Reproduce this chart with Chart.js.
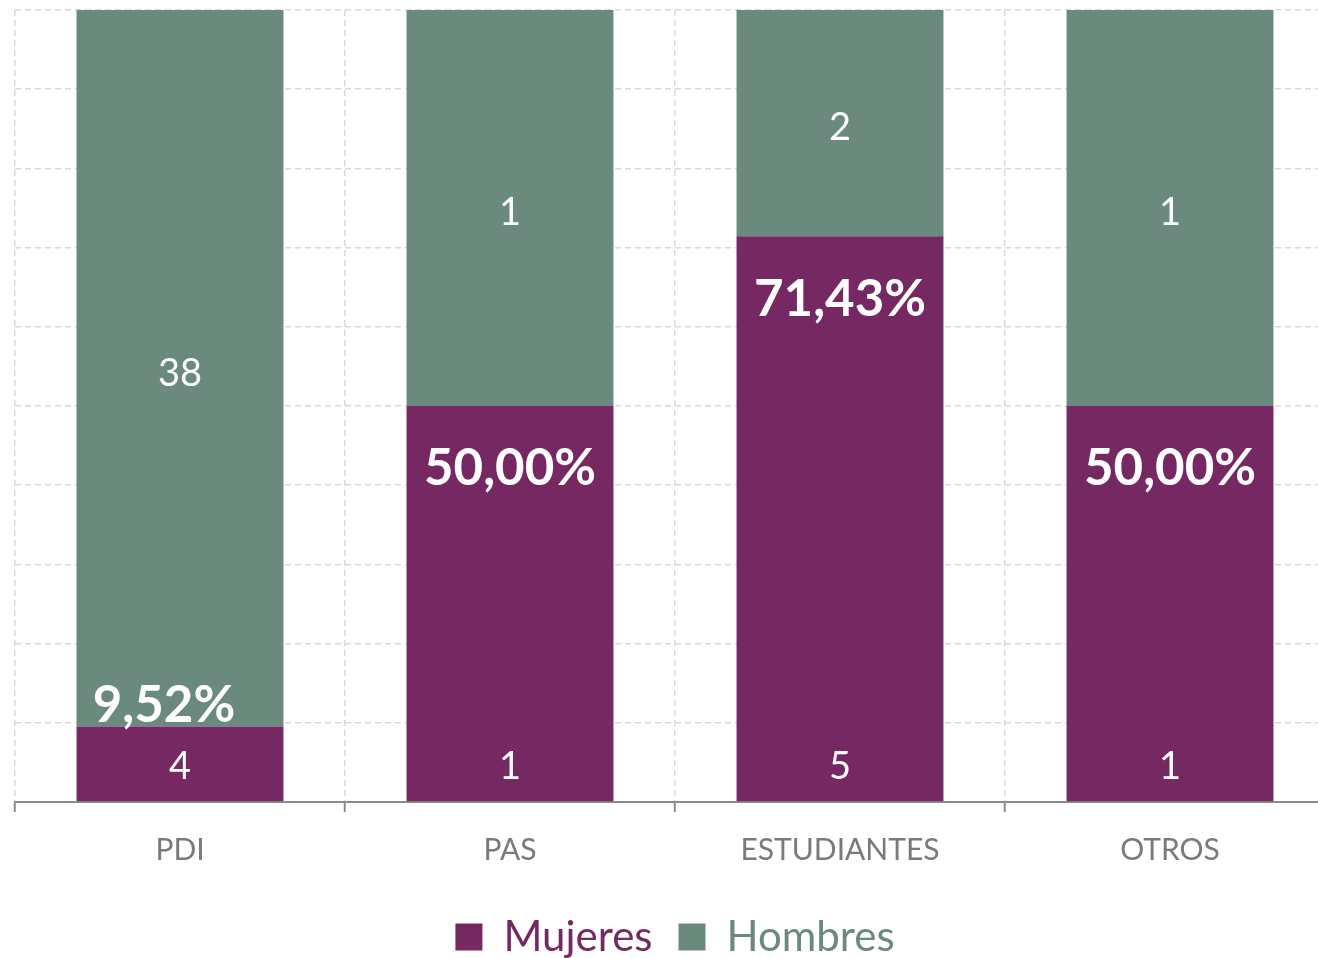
<!DOCTYPE html>
<html>
<head>
<meta charset="utf-8">
<script src="https://cdn.jsdelivr.net/npm/chart.js@4/dist/chart.umd.min.js"></script>
<style>
  html, body { margin: 0; padding: 0; background: #fff; overflow: hidden; }
  #wrap { width: 1340px; height: 958px; overflow: hidden; }
</style>
</head>
<body>
<div id="wrap"><canvas id="chart" width="1340" height="968"></canvas></div>
<script>
var categories = ['PDI', 'PAS', 'ESTUDIANTES', 'OTROS'];
var mujeres = [4, 1, 5, 1];
var hombres = [38, 1, 2, 1];
var pctLabels = ['9,52%', '50,00%', '71,43%', '50,00%'];

var purple = '#762862';
var green = '#6a8a7e';
var font = 'Lato, "Open Sans", sans-serif';

// 100% stacked: share of each group in its category
function share(part, i) {
    return part[i] / (mujeres[i] + hombres[i]) * 100;
}
var mujeresPct = categories.map(function (c, i) { return share(mujeres, i); });
var hombresPct = categories.map(function (c, i) { return share(hombres, i); });

var barLabels = {
    id: 'barLabels',
    afterDatasetsDraw: function (chart) {
        var ctx = chart.ctx;
        ctx.save();
        ctx.fillStyle = '#ffffff';
        ctx.textAlign = 'center';
        ctx.textBaseline = 'middle';
        var mMeta = chart.getDatasetMeta(0);
        var hMeta = chart.getDatasetMeta(1);
        mMeta.data.forEach(function (bar, i) {
            ctx.font = '38px ' + font;
            ctx.fillText(String(mujeres[i]), bar.x, bar.base - 35);
            ctx.font = 'bold 51px ' + font;
            var h = bar.base - bar.y;
            // short bar: the percentage sits just above it, a bit to the left
            if (h > 150) {
                ctx.fillText(pctLabels[i], bar.x, bar.y + 63);
            } else {
                ctx.fillText(pctLabels[i], bar.x - 16, bar.y - 21);
            }
        });
        hMeta.data.forEach(function (bar, i) {
            ctx.font = '38px ' + font;
            ctx.fillText(String(hombres[i]), bar.x, (bar.y + bar.base) / 2 + 5);
        });
        ctx.restore();
    }
};

var ctx = document.getElementById('chart').getContext('2d');
var chart = new Chart(ctx, {
    type: 'bar',
    data: {
        labels: categories,
        datasets: [{
            label: 'Mujeres',
            data: mujeresPct,
            backgroundColor: purple,
            categoryPercentage: 1,
            barPercentage: 0.627
        }, {
            label: 'Hombres',
            data: hombresPct,
            backgroundColor: green,
            categoryPercentage: 1,
            barPercentage: 0.627
        }]
    },
    options: {
        responsive: false,
        animation: false,
        layout: { padding: { left: 15, right: 5, top: 10, bottom: 0 } },
        plugins: {
            tooltip: { enabled: false },
            legend: {
                position: 'bottom',
                labels: {
                    boxWidth: 27,
                    boxHeight: 27,
                    padding: 26,
                    font: { family: font, size: 42 },
                    generateLabels: function (chart) {
                        return chart.data.datasets.map(function (ds, i) {
                            return {
                                text: ds.label,
                                fillStyle: ds.backgroundColor,
                                strokeStyle: ds.backgroundColor,
                                lineWidth: 0,
                                fontColor: ds.backgroundColor,
                                datasetIndex: i,
                                hidden: false
                            };
                        });
                    }
                }
            }
        },
        scales: {
            x: {
                stacked: true,
                grid: {
                    offset: true,
                    color: '#d9d9d9',
                    lineWidth: 1.5,
                    tickColor: '#8c8c8c',
                    tickWidth: 2,
                    tickLength: 10,
                    tickBorderDash: []
                },
                border: { display: true, color: '#8c8c8c', width: 2, dash: [6, 4] },
                ticks: {
                    color: '#7a7a7a',
                    padding: 20,
                    font: { family: font, size: 30 }
                },
                afterFit: function (scale) { scale.height = 88; }
            },
            y: {
                stacked: true,
                min: 0,
                max: 100,
                ticks: { display: false, stepSize: 10 },
                grid: { color: '#d9d9d9', lineWidth: 1.5, drawTicks: false },
                border: { display: false, dash: [6, 4] }
            }
        }
    },
    plugins: [barLabels]
});
</script>
</body>
</html>
